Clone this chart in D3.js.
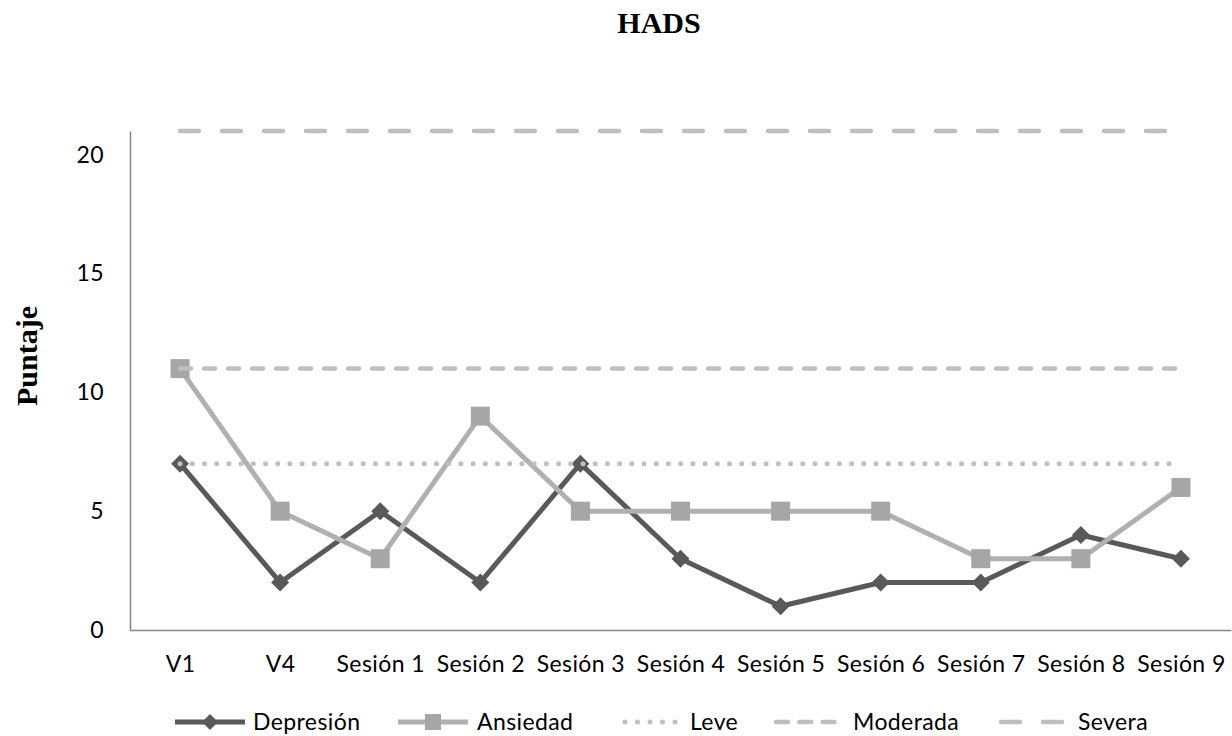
<!DOCTYPE html>
<html><head><meta charset="utf-8">
<script src="https://cdn.jsdelivr.net/npm/d3@7"></script>
<style>body{margin:0;background:#fff}svg{display:block}</style>
</head><body>
<svg id="c" width="1232" height="736"></svg>
<script>
const categories = ["V1","V4","Sesión 1","Sesión 2","Sesión 3","Sesión 4","Sesión 5","Sesión 6","Sesión 7","Sesión 8","Sesión 9"];
const depresion = [7,2,5,2,7,3,1,2,2,4,3];
const ansiedad  = [11,5,3,9,5,5,5,5,3,3,6];
const leve      = [7,7,7,7,7,7,7,7,7,7,7];
const moderada  = [11,11,11,11,11,11,11,11,11,11,11];
const severa    = [21,21,21,21,21,21,21,21,21,21,21];
const yTicks = [0,5,10,15,20];

const svg = d3.select("#c");
const sans = "Lato, 'Open Sans', sans-serif";
const serif = "'Liberation Serif', 'Times New Roman', serif";
const fs = 23, ls = 0.4;

const x = d3.scalePoint().domain(categories).range([130,1231]).padding(0.5);
const y = d3.scaleLinear().domain([0,21]).range([630,131]);

// title
svg.append("text").attr("x",659).attr("y",33).attr("text-anchor","middle")
  .attr("font-family",serif).attr("font-weight","bold").attr("font-size",30).text("HADS");
// y label
svg.append("text").attr("transform","translate(37,356) rotate(-90)").attr("text-anchor","middle")
  .attr("font-family",serif).attr("font-weight","bold").attr("font-size",30).text("Puntaje");

// axes
const yAxis = svg.append("g").attr("transform","translate(130,0)")
  .call(d3.axisLeft(y).tickValues(yTicks).tickSize(0).tickPadding(26));
yAxis.select(".domain").attr("stroke","#868686").attr("stroke-width",1.5);
yAxis.selectAll("text").attr("font-family",sans).attr("font-size",fs).attr("letter-spacing",ls).attr("fill","#000");

const xAxis = svg.append("g").attr("transform","translate(0,630)")
  .call(d3.axisBottom(x).tickSize(0).tickPadding(26));
xAxis.select(".domain").attr("stroke","#868686").attr("stroke-width",1.5);
xAxis.selectAll("text").attr("font-family",sans).attr("font-size",fs).attr("letter-spacing",ls).attr("fill","#000");

const line = d3.line().x((d,i)=>x(categories[i])).y(d=>y(d));

const cDep = "#595959", cAns = "#b0b0b0", cAnsM = "#a6a6a6", cRef = "#bfbfbf";

// Depresión
svg.append("path").datum(depresion).attr("d",line).attr("fill","none")
  .attr("stroke",cDep).attr("stroke-width",5).attr("stroke-linejoin","round");
const diamond = s => `M0,${-s}L${s},0L0,${s}L${-s},0Z`;
svg.append("g").selectAll("path").data(depresion).join("path")
  .attr("transform",(d,i)=>`translate(${x(categories[i])},${y(d)})`)
  .attr("d",diamond(9)).attr("fill",cDep);

// Ansiedad
svg.append("path").datum(ansiedad).attr("d",line).attr("fill","none")
  .attr("stroke",cAns).attr("stroke-width",5).attr("stroke-linejoin","round");
svg.append("g").selectAll("rect").data(ansiedad).join("rect")
  .attr("x",(d,i)=>x(categories[i])-9.5).attr("y",d=>y(d)-9.5)
  .attr("width",19).attr("height",19).attr("fill",cAnsM);

// reference lines
svg.append("path").datum(leve).attr("d",line).attr("fill","none")
  .attr("stroke",cRef).attr("stroke-width",5).attr("stroke-linecap","round").attr("stroke-dasharray","0.01 12.2");
svg.append("path").datum(moderada).attr("d",line).attr("fill","none")
  .attr("stroke",cRef).attr("stroke-width",4.5).attr("stroke-linecap","round").attr("stroke-dasharray","11 13");
svg.append("path").datum(severa).attr("d",line).attr("fill","none")
  .attr("stroke",cRef).attr("stroke-width",4.5).attr("stroke-linecap","round").attr("stroke-dasharray","19 23");

// legend
const legend = [
  {name:"Depresión", x0:175, type:"dep"},
  {name:"Ansiedad", x0:398, type:"ans"},
  {name:"Leve", x0:625, type:"leve"},
  {name:"Moderada", x0:776, type:"mod"},
  {name:"Severa", x0:1001, type:"sev"}
];
const ly = 722;
legend.forEach(l=>{
  const g = svg.append("g");
  const p = g.append("line").attr("x1",l.x0).attr("x2",l.x0+70).attr("y1",ly).attr("y2",ly);
  if(l.type==="dep"){ p.attr("stroke",cDep).attr("stroke-width",5);
    g.append("path").attr("transform",`translate(${l.x0+35},${ly})`).attr("d",diamond(8)).attr("fill",cDep);}
  if(l.type==="ans"){ p.attr("stroke",cAns).attr("stroke-width",5);
    g.append("rect").attr("x",l.x0+35-8).attr("y",ly-8).attr("width",16).attr("height",16).attr("fill",cAnsM);}
  if(l.type==="leve"){ p.attr("x2",l.x0+52).attr("stroke",cRef).attr("stroke-width",5).attr("stroke-linecap","round").attr("stroke-dasharray","0.01 12.5");}
  if(l.type==="mod"){ p.attr("x2",l.x0+62).attr("stroke",cRef).attr("stroke-width",4.5).attr("stroke-linecap","round").attr("stroke-dasharray","12 11.3");}
  if(l.type==="sev"){ p.attr("x2",l.x0+64).attr("stroke",cRef).attr("stroke-width",4.5).attr("stroke-linecap","round").attr("stroke-dasharray","19 23");}
  const tx = {dep:253, ans:477, leve:690, mod:853, sev:1078}[l.type];
  g.append("text").attr("x",tx).attr("y",ly+8).attr("font-family",sans).attr("font-size",fs).attr("letter-spacing",ls).text(l.name);
});
</script>
</body></html>
